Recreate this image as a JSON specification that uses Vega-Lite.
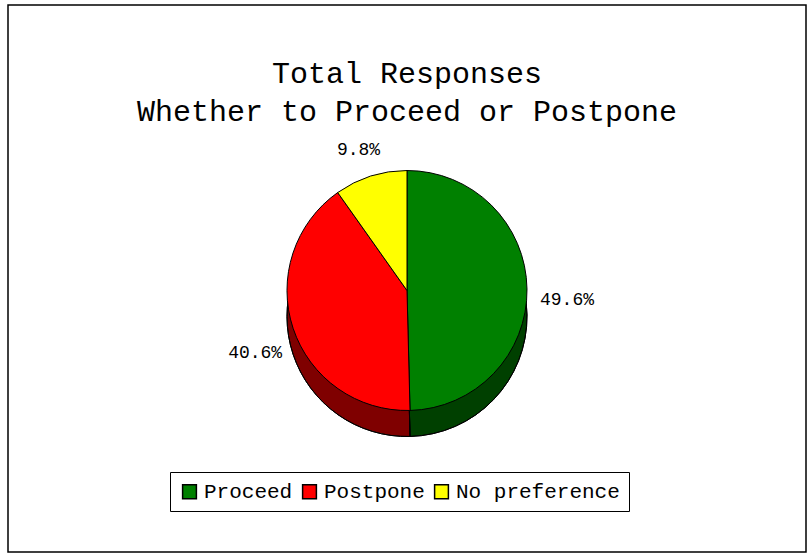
{
  "$schema": "https://vega.github.io/schema/vega-lite/v6.json",
  "width": 798,
  "height": 547,
  "autosize": "none",
  "padding": {"left": 8, "top": 5, "right": 2, "bottom": 4},
  "background": "white",
  "view": {"stroke": "black", "strokeWidth": 1.5, "fill": "white"},
  "title": {
    "text": ["Total Responses", "Whether to Proceed or Postpone"],
    "font": "Liberation Mono",
    "fontSize": 30,
    "fontWeight": "normal",
    "color": "black",
    "lineHeight": 38,
    "anchor": "middle",
    "offset": 0,
    "dy": 122
  },
  "data": {
    "values": [
      {"category": "Proceed", "pct": 49.6, "ord": 1, "label": "49.6%"},
      {"category": "Postpone", "pct": 40.6, "ord": 2, "label": "40.6%"},
      {"category": "No preference", "pct": 9.8, "ord": 3, "label": "9.8%"}
    ]
  },
  "encoding": {
    "theta": {"field": "pct", "type": "quantitative", "stack": true},
    "order": {"field": "ord", "type": "quantitative"}
  },
  "layer": [
    {
      "mark": {"type": "arc", "outerRadius": 120, "stroke": "black", "strokeWidth": 1, "yOffset": 38},
      "encoding": {
        "color": {
          "field": "category",
          "type": "nominal",
          "scale": {"domain": ["Proceed", "Postpone", "No preference"], "range": ["#008000", "#FF0000", "#FFFF00"]},
          "sort": ["Proceed", "Postpone", "No preference"],
          "legend": {
            "title": null,
            "orient": "none",
            "legendX": 162,
            "legendY": 467,
            "direction": "horizontal",
            "strokeColor": "black",
            "padding": 9,
            "symbolType": "square",
            "symbolSize": 190,
            "symbolStrokeColor": "black",
            "symbolStrokeWidth": 1.5,
            "symbolOpacity": 1,
            "labelFont": "Liberation Mono",
            "labelFontSize": 21,
            "labelLimit": 400,
            "labelColor": "black",
            "labelOffset": 4,
            "columnPadding": 6
          }
        }
      }
    },
    {
      "mark": {"type": "arc", "outerRadius": 120, "fill": "black", "fillOpacity": 0.5, "stroke": "black", "strokeWidth": 1, "yOffset": 38}
    },
    {
      "mark": {"type": "arc", "outerRadius": 120, "stroke": "black", "strokeWidth": 1, "yOffset": 12},
      "encoding": {
        "color": {"field": "category", "type": "nominal"}
      }
    },
    {
      "mark": {"type": "text", "radius": 160, "font": "Liberation Mono", "fontSize": 18, "color": "black", "yOffset": 24},
      "encoding": {
        "text": {"field": "label", "type": "nominal"}
      }
    }
  ]
}
